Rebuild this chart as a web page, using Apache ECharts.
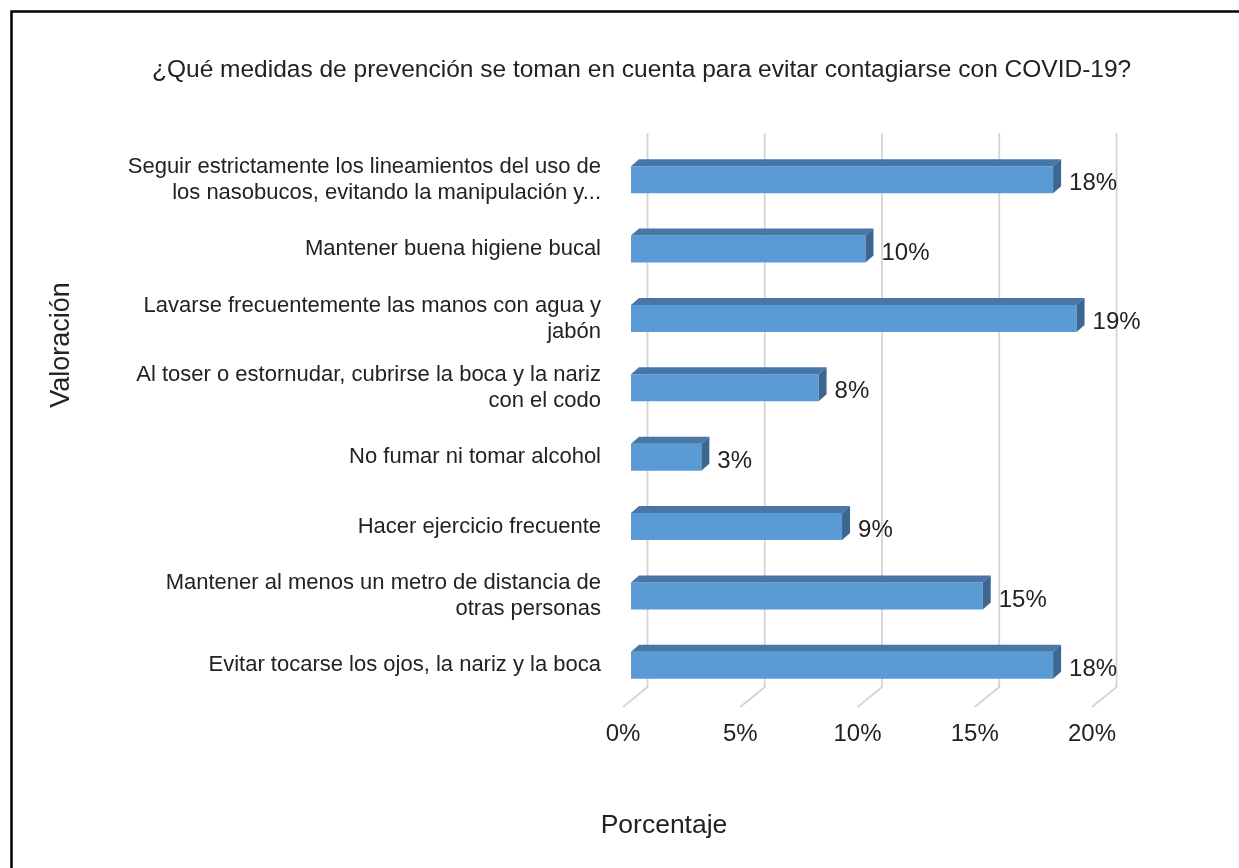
<!DOCTYPE html>
<html>
<head>
<meta charset="utf-8">
<script src="https://cdn.jsdelivr.net/npm/echarts@6/dist/echarts.min.js"></script>
<style>
  html, body { margin: 0; padding: 0; background: #fff; }
  #chart { width: 1239px; height: 868px; }
</style>
</head>
<body>
<div id="chart"></div>
<script>
// datos
const categories = [
  'Seguir estrictamente los lineamientos del uso de\nlos nasobucos, evitando la manipulación y...',
  'Mantener buena higiene bucal',
  'Lavarse frecuentemente las manos con agua y\njabón',
  'Al toser o estornudar, cubrirse la boca y la nariz\ncon el codo',
  'No fumar ni tomar alcohol',
  'Hacer ejercicio frecuente',
  'Mantener al menos un metro de distancia de\notras personas',
  'Evitar tocarse los ojos, la nariz y la boca'
]
const values = [18, 10, 19, 8, 3, 9, 15, 18]
const tickValues = [0, 5, 10, 15, 20]

const titleText = '¿Qué medidas de prevención se toman en cuenta para evitar contagiarse con COVID-19?'
const xName = 'Porcentaje'
const yName = 'Valoración'

const font = "'Liberation Sans', Arial, sans-serif"
const textColor = '#222'

// desplazamientos del efecto 3D
const barShift = 8      // cara frontal de la barra respecto al suelo
const depthX = 8
const depthY = 7
const wallX = 24.5      // pared del fondo
const wallY = 20

function renderBar(params, api) {
  const cat = api.value(1)
  const val = api.value(0)
  const start = api.coord([0, cat])
  const end = api.coord([val, cat])
  const band = api.size([0, 1])[1]
  const h = band * 0.39
  const x0 = start[0] + barShift
  const x1 = end[0] + barShift
  const y0 = start[1] - h / 2
  return {
    type: 'group',
    children: [
      {
        type: 'rect',
        shape: { x: x0, y: y0, width: x1 - x0, height: h },
        style: { fill: '#5b9bd5' }
      },
      {
        type: 'polygon',
        shape: { points: [[x0, y0], [x0 + depthX, y0 - depthY], [x1 + depthX, y0 - depthY], [x1, y0]] },
        style: { fill: '#4677a6' }
      },
      {
        type: 'polygon',
        shape: { points: [[x1, y0], [x1 + depthX, y0 - depthY], [x1 + depthX, y0 + h - depthY], [x1, y0 + h]] },
        style: { fill: '#3c6791' }
      },
      {
        type: 'text',
        style: {
          x: x1 + depthX + 8,
          y: start[1] + 4,
          text: val + '%',
          fill: textColor,
          font: '24px ' + font,
          verticalAlign: 'middle'
        }
      }
    ]
  }
}

function renderGrid(params, api) {
  const v = api.value(0)
  const x = api.coord([v, 0])[0]
  const cs = params.coordSys
  const bottom = cs.y + cs.height
  return {
    type: 'polyline',
    shape: { points: [[x + wallX, cs.y - 12], [x + wallX, bottom - 13], [x, bottom + wallY - 13]] },
    style: { stroke: '#d4d4d4', lineWidth: 1.8, fill: null }
  }
}

const chart = echarts.init(document.getElementById('chart'))

chart.setOption({
  backgroundColor: '#fff',
  animation: false,
  title: {
    text: titleText,
    left: 147,
    top: 53,
    textStyle: { fontFamily: font, fontSize: 24.5, fontWeight: 'normal', color: textColor }
  },
  grid: { left: 623, right: 147, top: 145, bottom: 168 },
  xAxis: {
    type: 'value',
    min: 0,
    max: 20,
    interval: 5,
    axisLine: { show: false },
    axisTick: { show: false },
    splitLine: { show: false },
    axisLabel: {
      formatter: '{value}%',
      margin: 22,
      fontFamily: font,
      fontSize: 24,
      color: textColor
    }
  },
  yAxis: {
    type: 'category',
    inverse: true,
    data: categories,
    axisLine: { show: false },
    axisTick: { show: false },
    splitLine: { show: false },
    axisLabel: {
      margin: 22,
      fontFamily: font,
      fontSize: 22,
      lineHeight: 26,
      color: textColor,
      align: 'right'
    }
  },
  series: [
    {
      type: 'custom',
      renderItem: renderGrid,
      data: tickValues.map(v => [v, 0]),
      encode: { x: 0, y: 1 },
      z: 1,
      silent: true
    },
    {
      type: 'custom',
      renderItem: renderBar,
      data: values.map((v, i) => [v, i]),
      encode: { x: 0, y: 1 },
      z: 2
    }
  ],
  graphic: [
    {
      type: 'polyline',
      shape: { points: [[11.5, 868], [11.5, 11.5], [1239, 11.5]] },
      style: { stroke: '#000', lineWidth: 2.5, fill: null }
    },
    {
      type: 'text',
      x: 62,
      y: 345,
      rotation: Math.PI / 2,
      style: {
        text: yName,
        font: '27px ' + font,
        fill: textColor,
        align: 'center',
        verticalAlign: 'middle'
      }
    },
    {
      type: 'text',
      x: 664,
      y: 826,
      style: {
        text: xName,
        font: '26.5px ' + font,
        fill: textColor,
        align: 'center',
        verticalAlign: 'middle'
      }
    }
  ]
})
</script>
</body>
</html>
